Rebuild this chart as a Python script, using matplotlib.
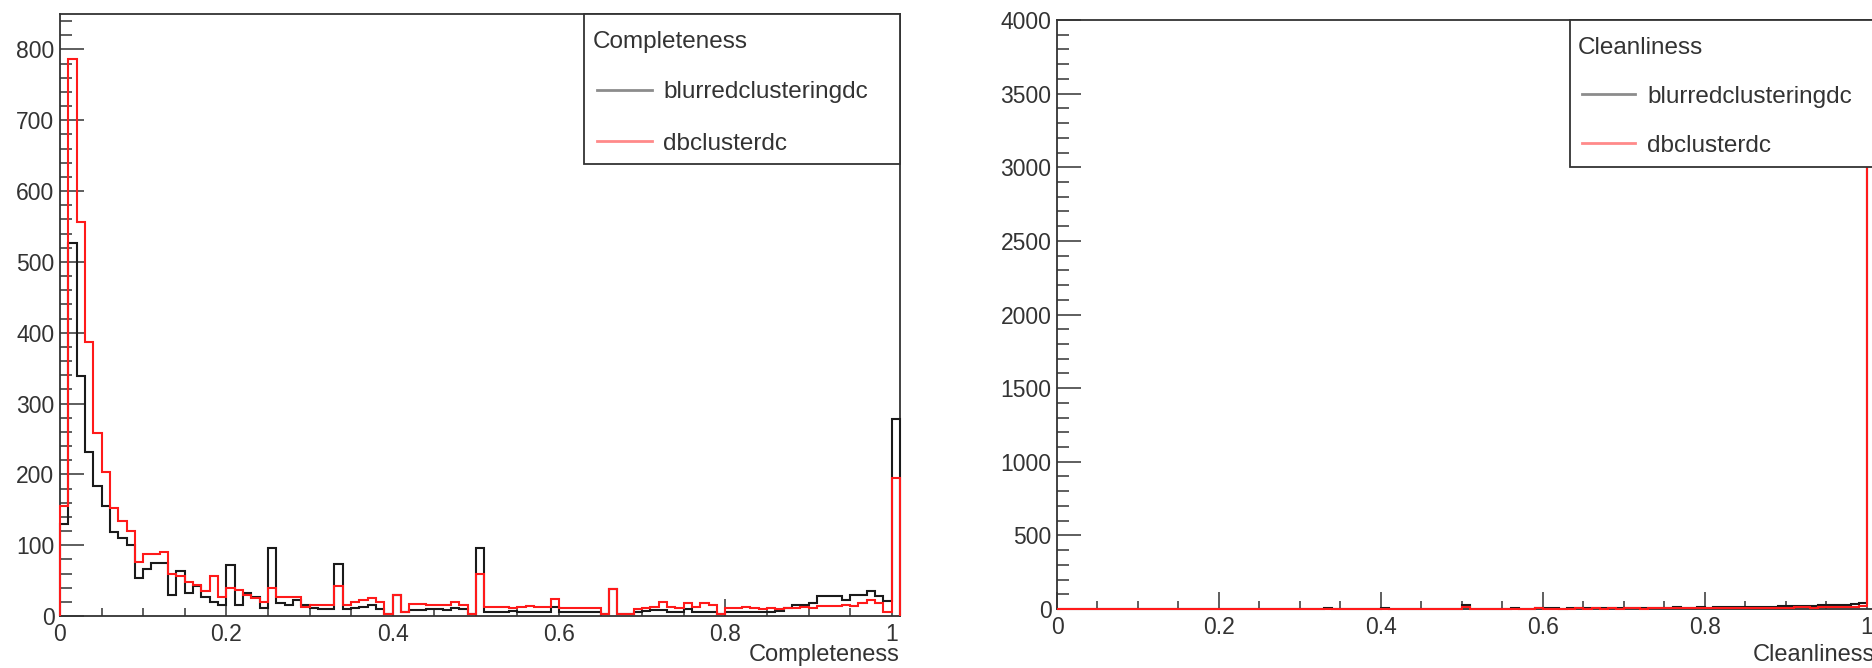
import numpy as np
import matplotlib.pyplot as plt
from matplotlib.patches import Rectangle
from matplotlib.lines import Line2D
from matplotlib.ticker import MultipleLocator, FuncFormatter

# Histogram binning: 101 bins of width 0.01 from 0 to 1.01
n_bins = 101
bin_lo, bin_hi = 0.0, 1.01

series_names = ["blurredclusteringdc", "dbclusterdc"]

completeness_blurred = [
    130, 526, 339, 232, 184, 155, 118, 110, 100, 54,
    66, 75, 75, 30, 64, 33, 42, 27, 20, 15,
    72, 15, 33, 27, 12, 96, 18, 15, 22, 15,
    12, 10, 10, 74, 10, 12, 13, 15, 10, 3,
    30, 5, 8, 8, 10, 10, 9, 12, 10, 3,
    96, 6, 6, 5, 7, 6, 5, 6, 6, 13,
    5, 5, 6, 5, 5, 3, 38, 3, 3, 6,
    7, 8, 9, 6, 5, 10, 6, 5, 6, 3,
    5, 6, 5, 5, 6, 6, 7, 12, 16, 16,
    18, 28, 28, 28, 22, 30, 30, 35, 28, 21,
    278,
]
completeness_db = [
    155, 787, 556, 387, 258, 204, 153, 134, 120, 76,
    87, 88, 91, 60, 57, 48, 44, 36, 57, 27,
    39, 37, 30, 25, 20, 39, 27, 27, 27, 13,
    15, 15, 15, 43, 15, 20, 22, 25, 20, 3,
    30, 6, 17, 17, 15, 15, 15, 20, 15, 3,
    60, 13, 13, 13, 12, 13, 14, 13, 13, 24,
    12, 12, 11, 12, 12, 3, 38, 3, 3, 10,
    12, 13, 20, 13, 12, 19, 13, 18, 15, 3,
    12, 11, 13, 11, 10, 12, 10, 12, 12, 13,
    12, 14, 14, 14, 16, 14, 19, 22, 19, 5,
    195,
]

cleanliness_blurred = [
    0, 0, 0, 0, 0, 0, 0, 0, 0, 0,
    0, 0, 0, 0, 0, 0, 0, 0, 0, 0,
    2, 0, 0, 0, 0, 3, 0, 0, 0, 0,
    0, 0, 0, 4, 0, 0, 0, 0, 0, 0,
    5, 0, 0, 0, 0, 0, 0, 0, 2, 0,
    25, 3, 2, 0, 3, 2, 4, 3, 2, 5,
    6, 4, 3, 5, 8, 4, 10, 6, 7, 5,
    6, 8, 7, 9, 10, 8, 12, 10, 9, 11,
    10, 12, 14, 13, 12, 15, 14, 16, 15, 18,
    17, 20, 22, 21, 24, 26, 28, 30, 32, 38,
    3650,
]
cleanliness_db = [
    0, 0, 0, 0, 0, 0, 0, 0, 0, 0,
    0, 0, 0, 0, 0, 0, 0, 0, 0, 0,
    0, 0, 0, 0, 0, 2, 0, 0, 0, 0,
    0, 0, 0, 2, 0, 0, 0, 0, 0, 0,
    3, 0, 0, 0, 0, 0, 0, 0, 0, 0,
    15, 2, 0, 0, 2, 0, 3, 2, 0, 4,
    3, 2, 3, 2, 4, 2, 8, 3, 4, 2,
    4, 5, 3, 6, 5, 4, 6, 5, 4, 6,
    5, 8, 7, 6, 8, 7, 9, 8, 7, 10,
    9, 11, 12, 10, 12, 14, 13, 15, 16, 22,
    3800,
]

x_ticks = [0, 0.2, 0.4, 0.6, 0.8, 1]

W, H = 1872, 668
FONT = "Liberation Sans"
TXT = "#333333"
FRAME = "#333333"
plt.rcParams["font.family"] = [FONT, "DejaVu Sans"]


def px_box(left, top, right, bottom):
    """Figure-fraction rectangle from pixel edges (origin top-left)."""
    return [left / W, 1 - bottom / H, (right - left) / W, (bottom - top) / H]


def fx(x):
    return x / W


def fy(y):
    return 1 - y / H


def style_axes(ax, ymax, ymajor, yminor, xtitle, title_y):
    ax.set_xlim(bin_lo, bin_hi)
    ax.set_ylim(0, ymax)
    ax.set_xticks(x_ticks)
    ax.xaxis.set_minor_locator(MultipleLocator(0.05))
    ax.yaxis.set_major_locator(MultipleLocator(ymajor))
    ax.yaxis.set_minor_locator(MultipleLocator(yminor))
    ax.xaxis.set_major_formatter(FuncFormatter(lambda v, p: "%g" % round(v, 3)))
    ax.yaxis.set_major_formatter(FuncFormatter(lambda v, p: "%d" % v))
    ax.tick_params(axis="both", which="both", direction="in", colors=FRAME,
                   labelcolor=TXT, labelsize=16.5, top=False, right=False)
    ax.tick_params(axis="y", which="major", length=17, width=1.1, pad=4)
    ax.tick_params(axis="y", which="minor", length=8.5, width=1.1)
    ax.tick_params(axis="x", which="major", length=12, width=1.1, pad=5)
    ax.tick_params(axis="x", which="minor", length=6, width=1.1)
    for sp in ax.spines.values():
        sp.set_color(FRAME)
        sp.set_linewidth(1.3)
    # axis title sits under the right end of the axis, ROOT style
    fig.text(ax.get_position().x1, fy(title_y), xtitle, ha="right",
             va="center", fontsize=17, color=TXT)


def draw_hists(ax, blurred, db):
    edges = np.linspace(bin_lo, bin_hi, n_bins + 1)
    ax.stairs(blurred, edges, color="#1a1a1a", lw=1.5, baseline=0,
              clip_on=False, zorder=3)
    ax.stairs(db, edges, color="#ff1a1a", lw=1.5, baseline=0,
              clip_on=False, zorder=4)


def draw_legend(title, box, header_xy, line_x, rows):
    left, top, right, bottom = box
    fig.patches.append(Rectangle((fx(left), fy(bottom)), fx(right - left),
                                 (bottom - top) / H, transform=fig.transFigure,
                                 facecolor="white", edgecolor=FRAME, lw=1.3,
                                 zorder=10))
    fig.text(fx(header_xy[0]), fy(header_xy[1]), title, ha="left",
             va="center", fontsize=17.5, color=TXT, zorder=11)
    colors = ["#8c8c8c", "#ff8a8a"]
    for (ly, ty), name, c in zip(rows, series_names, colors):
        fig.lines.append(Line2D([fx(line_x[0]), fx(line_x[1])], [fy(ly), fy(ly)],
                                transform=fig.transFigure, color=c, lw=2,
                                zorder=11))
        fig.text(fx(line_x[2]), fy(ty), name, ha="left", va="center",
                 fontsize=17.5, color=TXT, zorder=11)


fig = plt.figure(figsize=(W / 100, H / 100), dpi=100)
fig.patch.set_facecolor("white")

ax1 = fig.add_axes(px_box(60, 14, 900, 616))
draw_hists(ax1, completeness_blurred, completeness_db)
style_axes(ax1, 850, 100, 20, "Completeness", 655)

ax2 = fig.add_axes(px_box(1057, 20, 1875, 609))
draw_hists(ax2, cleanliness_blurred, cleanliness_db)
style_axes(ax2, 4000, 500, 100, "Cleanliness", 655)

draw_legend("Completeness", (584, 14, 900, 164), (593, 42),
            (597, 652, 663), [(90, 92), (141, 144)])
draw_legend("Cleanliness", (1570, 20, 1880, 167), (1578, 48),
            (1582, 1635, 1647), [(94, 97), (143, 146)])

fig.savefig("out.png", dpi=100)
